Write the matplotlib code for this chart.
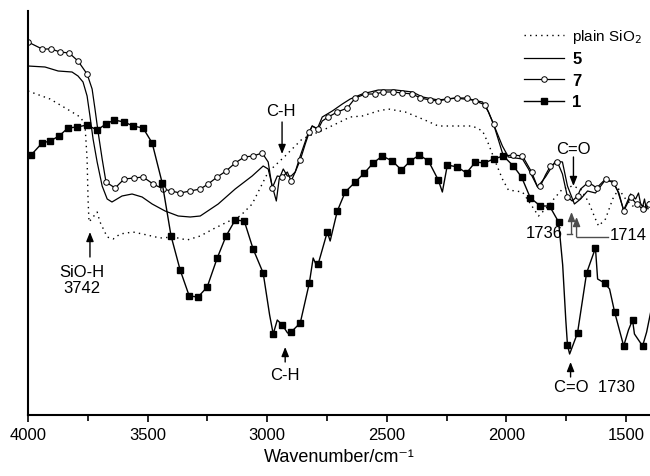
import numpy as np
import matplotlib
matplotlib.use("Agg")
import matplotlib.pyplot as plt
from matplotlib.lines import Line2D

plt.rcParams['font.family'] = ['Liberation Sans', 'DejaVu Sans']

# ---------------- data (wavenumber / cm-1, transmittance a.u.) ----------------
wn_sio2 = [4000, 3908, 3837, 3782, 3762, 3753, 3749, 3745, 3728, 3711, 3699, 3669,
           3644, 3615, 3561, 3502, 3448, 3393, 3335, 3280, 3226, 3167, 3113, 3063,
           2996, 2925, 2854, 2757, 2653, 2603, 2536, 2494, 2423, 2351, 2285, 2213,
           2142, 2100, 2075, 2046, 2017, 1992, 1933, 1891, 1866, 1837, 1795, 1766,
           1724, 1690, 1657, 1628, 1615, 1586, 1556, 1531, 1502, 1473, 1440, 1406]
t_sio2 = [324, 316, 306, 298, 291, 256, 216, 193, 198, 203, 193, 178,
          176, 181, 183, 180, 177, 178, 175, 179, 186, 193, 199, 211,
          243, 259, 276, 286, 298, 299, 304, 306, 303, 296, 289, 289,
          289, 284, 271, 253, 236, 225, 223, 208, 199, 206, 218, 226,
          229, 226, 213, 196, 189, 196, 216, 226, 216, 209, 211, 206]

wn_5 = [4000, 3929, 3874, 3816, 3791, 3770, 3753, 3741, 3728, 3711, 3690, 3669,
        3649, 3607, 3565, 3523, 3481, 3427, 3372, 3322, 3280, 3205, 3134, 3063,
        3017, 2996, 2979, 2962, 2950, 2933, 2916, 2900, 2883, 2862, 2833, 2812,
        2791, 2770, 2728, 2686, 2653, 2603, 2536, 2464, 2393, 2351, 2285, 2213,
        2142, 2100, 2075, 2046, 2017, 1992, 1933, 1908, 1870, 1837, 1795, 1766,
        1745, 1716, 1690, 1661, 1628, 1590, 1556, 1535, 1510, 1481, 1460, 1448,
        1440, 1431, 1423, 1415, 1406]
t_5 = [349, 348, 344, 343, 339, 333, 319, 299, 276, 253, 229, 216,
       213, 219, 221, 218, 211, 204, 199, 198, 199, 211, 226, 239,
       249, 246, 229, 214, 236, 246, 239, 239, 243, 259, 279, 289,
       286, 298, 304, 311, 316, 321, 325, 325, 323, 318, 315, 317,
       315, 313, 303, 286, 269, 258, 256, 246, 228, 238, 254, 253,
       229, 211, 216, 224, 222, 234, 234, 224, 205, 221, 216, 222,
       212, 208, 216, 205, 213]

wn_7 = [4000, 3941, 3903, 3866, 3828, 3791, 3753, 3732, 3720, 3707, 3690, 3674,
        3636, 3598, 3556, 3519, 3477, 3435, 3402, 3364, 3322, 3280, 3247, 3209,
        3172, 3134, 3096, 3059, 3021, 2996, 2979, 2958, 2937, 2916, 2900, 2883,
        2862, 2841, 2824, 2812, 2787, 2770, 2745, 2707, 2665, 2632, 2590, 2548,
        2515, 2473, 2435, 2393, 2360, 2318, 2285, 2247, 2205, 2163, 2130, 2088,
        2054, 2013, 1971, 1933, 1895, 1870, 1858, 1837, 1816, 1787, 1766, 1745,
        1725, 1703, 1690, 1661, 1640, 1623, 1586, 1552, 1530, 1510, 1481, 1456,
        1431, 1406]
t_7 = [373, 366, 366, 363, 362, 354, 341, 326, 306, 283, 256, 233,
       227, 236, 237, 238, 231, 226, 224, 222, 224, 226, 231, 238,
       244, 252, 258, 259, 262, 253, 227, 239, 238, 243, 234, 243,
       255, 271, 283, 289, 286, 294, 298, 303, 307, 317, 321, 321,
       323, 323, 322, 321, 317, 315, 314, 316, 317, 317, 314, 310,
       291, 259, 260, 259, 243, 228, 229, 240, 249, 253, 241, 218,
       214, 219, 226, 232, 230, 227, 236, 232, 222, 204, 218, 211,
       206, 211]
mk_7 = [1, 1, 1, 1, 1, 1, 1, 0, 0, 0, 0, 1,
        1, 1, 1, 1, 1, 1, 1, 1, 1, 1, 1, 1,
        1, 1, 1, 1, 1, 0, 1, 0, 1, 0, 1, 0,
        1, 0, 1, 0, 1, 0, 1, 1, 1, 1, 1, 1,
        1, 1, 1, 1, 1, 1, 1, 1, 1, 1, 1, 1,
        1, 1, 1, 1, 1, 0, 1, 0, 1, 1, 0, 1,
        0, 1, 0, 1, 0, 1, 1, 1, 0, 1, 1, 1,
        1, 1]

wn_1 = [4000, 3987, 3941, 3908, 3870, 3833, 3795, 3753, 3711, 3674, 3640, 3598,
        3561, 3519, 3481, 3439, 3402, 3364, 3326, 3289, 3251, 3209, 3172, 3134,
        3096, 3059, 3017, 2990, 2975, 2958, 2937, 2915, 2900, 2862, 2824, 2808,
        2795, 2787, 2749, 2737, 2707, 2674, 2632, 2594, 2557, 2519, 2477, 2439,
        2402, 2364, 2326, 2285, 2268, 2247, 2205, 2167, 2130, 2092, 2054, 2013,
        1971, 1937, 1900, 1858, 1820, 1782, 1765, 1752, 1745, 1736, 1703, 1665,
        1628, 1619, 1590, 1569, 1548, 1510, 1490, 1473, 1465, 1431, 1414, 1397]
t_1 = [258, 260, 272, 274, 279, 287, 288, 290, 285, 291, 295, 293,
       289, 287, 272, 232, 179, 145, 119, 118, 128, 157, 179, 195,
       194, 166, 142, 100, 81, 95, 90, 82, 83, 92, 132, 157,
       150, 151, 183, 174, 204, 223, 233, 242, 252, 259, 254, 245,
       254, 260, 254, 235, 223, 250, 248, 242, 253, 252, 256, 259,
       249, 238, 217, 209, 209, 193, 150, 95, 70, 61, 82, 142,
       167, 136, 132, 126, 103, 69, 85, 95, 81, 69, 83, 103]
mk_1 = [0, 1, 1, 1, 1, 1, 1, 1, 1, 1, 1, 1,
        1, 1, 1, 1, 1, 1, 1, 1, 1, 1, 1, 1,
        1, 1, 1, 0, 1, 0, 1, 0, 1, 1, 1, 0,
        0, 1, 1, 0, 1, 1, 1, 1, 1, 1, 1, 1,
        1, 1, 1, 1, 0, 1, 1, 1, 1, 1, 1, 1,
        1, 1, 1, 1, 1, 1, 0, 0, 1, 0, 1, 1,
        1, 0, 1, 0, 1, 1, 0, 1, 0, 1, 0, 0]

labels = ["plain SiO$_2$", "5", "7", "1"]

# ---------------- figure ----------------
fig = plt.figure(figsize=(6.5, 4.77), dpi=100)
ax = fig.add_axes([28 / 650, 61 / 477, 622 / 650, 404 / 477])

ax.plot(wn_sio2, t_sio2, color='k', lw=1.0, linestyle=(0, (1, 3)))
ax.plot(wn_5, t_5, color='k', lw=0.9)
ax.plot(wn_7, t_7, color='k', lw=0.9, marker='o', ms=4.0, mfc='white', mec='k',
        mew=0.7, markevery=[i for i, m in enumerate(mk_7) if m])
ax.plot(wn_1, t_1, color='k', lw=1.0, marker='s', ms=4.2, mfc='k', mec='k',
        markevery=[i for i, m in enumerate(mk_1) if m])

ax.set_xlim(4000, 1400)
ax.set_ylim(0, 404)
ax.set_xticks([4000, 3500, 3000, 2500, 2000, 1500])
ax.set_xticks([3750, 3250, 2750, 2250, 1750], minor=True)
ax.tick_params(axis='x', which='major', direction='out', length=5, width=1.2,
               labelsize=12, pad=4)
ax.tick_params(axis='x', which='minor', direction='out', length=4, width=1.2)
ax.set_yticks([])
for s in ['top', 'right']:
    ax.spines[s].set_visible(False)
for s in ['left', 'bottom']:
    ax.spines[s].set_linewidth(1.5)
ax.set_xlabel("Wavenumber/cm\u207b\u00b9", fontsize=13, labelpad=4)

# legend
handles = [
    Line2D([], [], color='k', lw=1.0, linestyle=(0, (1, 3))),
    Line2D([], [], color='k', lw=0.9),
    Line2D([], [], color='k', lw=0.9, marker='o', ms=4.0, mfc='white', mec='k', mew=0.7),
    Line2D([], [], color='k', lw=1.0, marker='s', ms=4.2, mfc='k'),
]
leg = fig.legend(handles, labels, loc='upper left', bbox_to_anchor=(524 / 650, 1 - 28 / 477),
                 frameon=False, fontsize=11, handlelength=2.6, handletextpad=0.55,
                 labelspacing=0.42, borderpad=0, borderaxespad=0)
for t in leg.get_texts()[1:]:
    t.set_fontweight('bold')
    t.set_fontsize(12)

# annotations
arrow = dict(arrowstyle='-|>,head_length=0.55,head_width=0.22', color='k', lw=1.0,
             shrinkA=0, shrinkB=0)
fs = 12
ax.annotate('', xy=(2938, 261), xytext=(2938, 293), arrowprops=arrow)
ax.text(2945, 304, 'C-H', ha='center', va='center', fontsize=fs)

ax.annotate('', xy=(3741, 183), xytext=(3741, 158), arrowprops=arrow)
ax.text(3774, 151, 'SiO-H\n3742', ha='center', va='top', fontsize=fs, linespacing=1.05)

ax.annotate('', xy=(2925, 68), xytext=(2925, 53), arrowprops=arrow)
ax.text(2925, 40, 'C-H', ha='center', va='center', fontsize=fs)

ax.annotate('', xy=(1732, 53), xytext=(1732, 38), arrowprops=arrow)
ax.text(1803, 28, 'C=O  1730', ha='left', va='center', fontsize=fs)

ax.annotate('', xy=(1720, 229), xytext=(1720, 258), arrowprops=arrow)
ax.text(1720, 266, 'C=O', ha='center', va='center', fontsize=fs)

grey = '0.3'
arrow_g = dict(arrowstyle='-|>,head_length=0.55,head_width=0.22', color=grey, lw=1.0,
               shrinkA=0, shrinkB=0)
ax.plot([1745, 1728], [181, 181], color=grey, lw=1.0)
ax.annotate('', xy=(1728, 203), xytext=(1728, 181), arrowprops=arrow_g)
ax.text(1764, 182, '1736', ha='right', va='center', fontsize=fs)

ax.plot([1707, 1577], [178, 178], color=grey, lw=1.0)
ax.annotate('', xy=(1707, 198), xytext=(1707, 178), arrowprops=arrow_g)
ax.text(1568, 180, '1714', ha='left', va='center', fontsize=fs, clip_on=False)

fig.savefig('out.png', dpi=100)
